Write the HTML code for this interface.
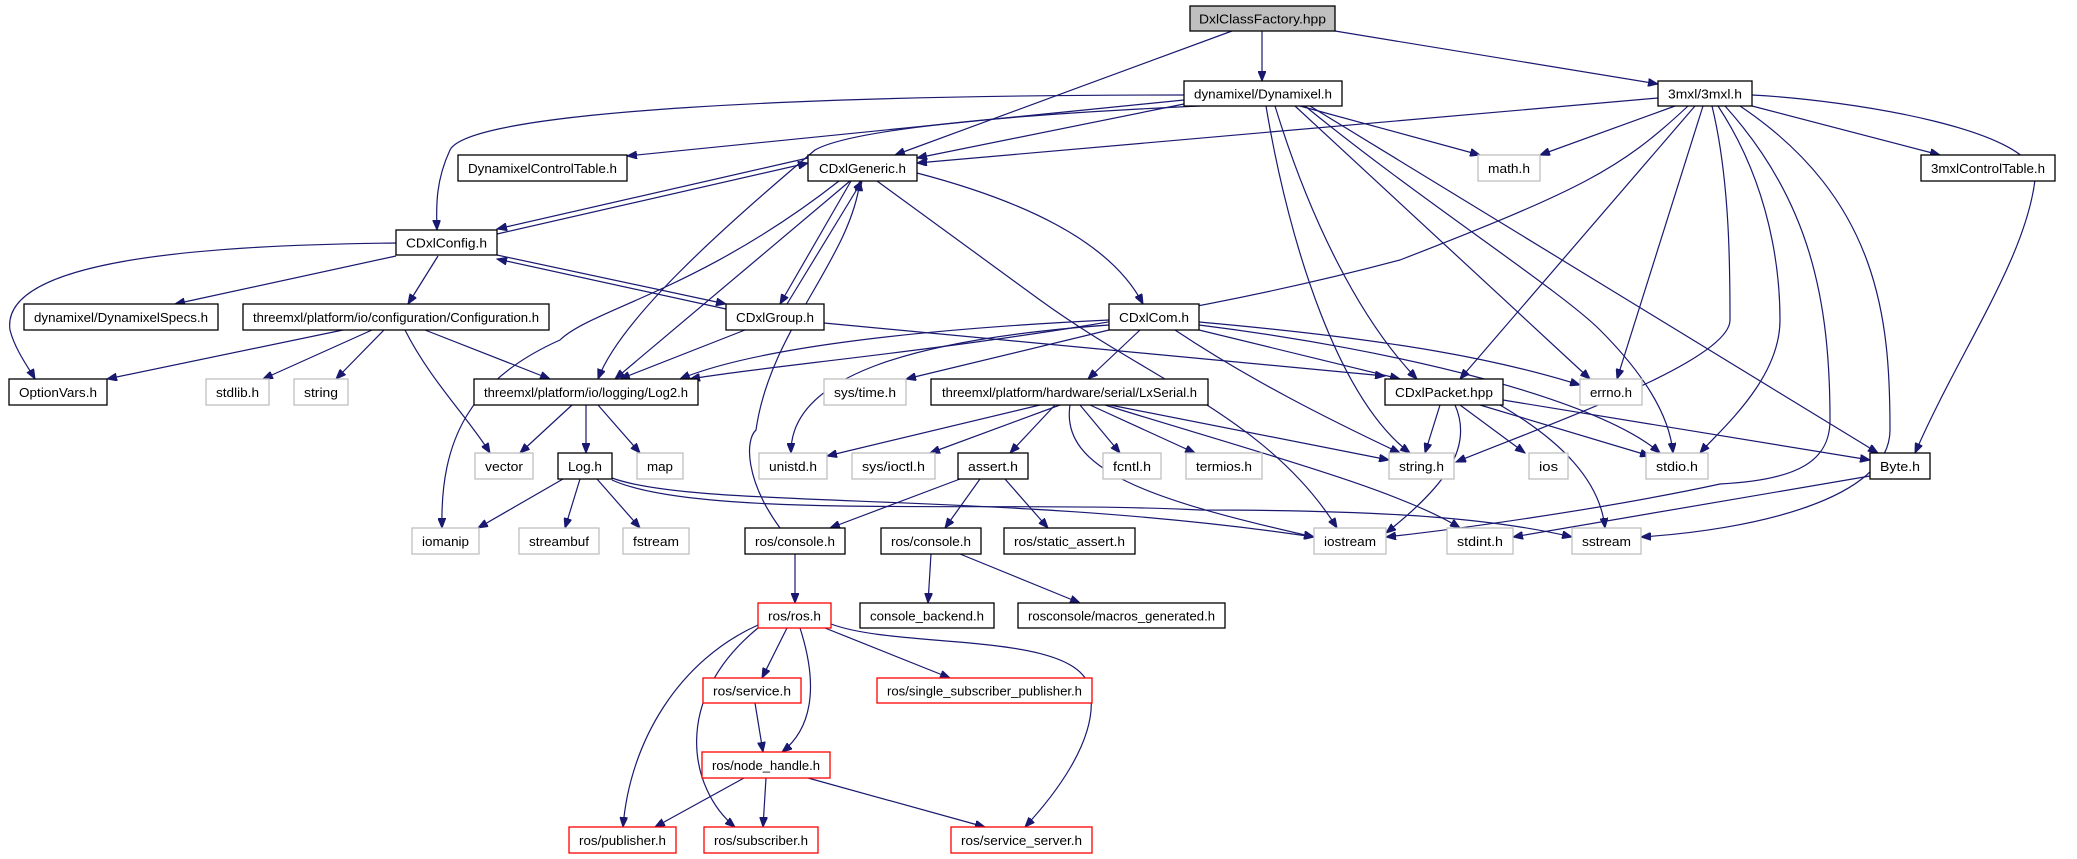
<!DOCTYPE html>
<html><head><meta charset="utf-8"><style>
html,body{margin:0;padding:0;background:#fff}
svg{display:block}
text{font-family:"Liberation Sans",Arial,sans-serif;font-size:13px;fill:#000}
.b{fill:#fff;stroke:#000;stroke-width:1.3}
.g{fill:#fff;stroke:#bfbfbf;stroke-width:1.3}
.r{fill:#fff;stroke:#ff0000;stroke-width:1.3}
.e path{fill:none;stroke:#191970;stroke-width:1.2;marker-end:url(#a)}
</style></head><body>
<svg width="2077" height="859" viewBox="0 0 2077 859" xmlns="http://www.w3.org/2000/svg">
<defs><marker id="a" markerUnits="userSpaceOnUse" markerWidth="11" markerHeight="8" refX="10" refY="4" orient="auto"><path d="M0,0 L10,4 L0,8 z" fill="#191970" stroke="#191970"/></marker></defs>
<g class="e">
<path d="M1262,31 L1262,81"/>
<path d="M1335,31 L1658,84"/>
<path d="M1232,31 L895,155"/>
<path d="M1184,95 C820,95 470,110 450,150 C436,180 436,205 437,230"/>
<path d="M1184,100 L627,156"/>
<path d="M1184,104 L917,158"/>
<path d="M1658,98 L917,163"/>
<path d="M1300,106 L1480,155"/>
<path d="M1200,106 C1000,115 850,130 815,150 C720,230 620,320 598,379"/>
<path d="M1275,106 C1310,220 1360,320 1417,379"/>
<path d="M1266,106 C1290,250 1340,400 1410,453"/>
<path d="M1295,106 L1590,379"/>
<path d="M1305,106 C1420,200 1560,290 1600,330 C1650,380 1670,420 1673,453"/>
<path d="M1310,106 L1878,453"/>
<path d="M1675,106 L1540,155"/>
<path d="M1752,106 L1940,155"/>
<path d="M1688,106 C1620,170 1580,190 1400,260 C1100,340 800,360 690,379"/>
<path d="M1695,106 L1460,379"/>
<path d="M1703,106 L1617,379"/>
<path d="M1712,106 C1730,180 1730,270 1730,320 C1730,360 1560,420 1456,462"/>
<path d="M1718,106 C1780,200 1780,300 1780,320 C1780,380 1720,430 1700,453"/>
<path d="M1725,106 C1810,200 1830,300 1830,420 C1830,460 1800,480 1720,484 C1600,510 1450,530 1386,537"/>
<path d="M1740,106 C1880,200 1890,320 1890,430 C1890,500 1750,530 1641,537"/>
<path d="M1752,95 C1850,100 2040,130 2035,180 C2025,260 1960,350 1915,453"/>
<path d="M808,158 L497,229"/>
<path d="M497,234 L808,163"/>
<path d="M851,181 L780,304"/>
<path d="M787,304 L862,181"/>
<path d="M850,181 L615,379"/>
<path d="M917,173 C1020,200 1110,240 1143,304"/>
<path d="M839,181 C700,290 590,310 560,340 C470,380 440,440 442,528"/>
<path d="M877,181 L1040,300 C1150,380 1270,420 1337,528"/>
<path d="M396,243 C200,245 0,260 10,330 C15,350 30,370 35,379"/>
<path d="M396,256 L175,304"/>
<path d="M438,256 L408,304"/>
<path d="M497,255 L726,304"/>
<path d="M726,309 L497,259"/>
<path d="M343,330 L107,379"/>
<path d="M372,330 L263,379"/>
<path d="M384,330 L336,379"/>
<path d="M425,330 L550,379"/>
<path d="M405,330 C430,380 470,420 490,453"/>
<path d="M745,330 L620,379"/>
<path d="M824,323 L1385,376"/>
<path d="M1109,320 C900,330 750,350 680,379"/>
<path d="M1109,330 L906,379"/>
<path d="M1140,330 L1088,379"/>
<path d="M1109,325 C900,340 790,380 791,453"/>
<path d="M1199,330 L1400,379"/>
<path d="M1199,322 C1400,340 1500,360 1580,385"/>
<path d="M1199,325 C1400,350 1600,400 1660,453"/>
<path d="M1175,330 C1250,380 1330,420 1400,453"/>
<path d="M1040,405 L827,456"/>
<path d="M1060,405 L930,453"/>
<path d="M1055,405 L1010,453"/>
<path d="M1080,405 L1120,453"/>
<path d="M1090,405 L1195,453"/>
<path d="M1110,405 L1389,460"/>
<path d="M1070,405 C1060,470 1150,500 1314,537"/>
<path d="M1105,405 C1250,450 1400,490 1460,528"/>
<path d="M1440,405 L1425,453"/>
<path d="M1460,405 L1525,453"/>
<path d="M1480,405 L1650,456"/>
<path d="M1503,400 L1870,460"/>
<path d="M1455,405 C1475,450 1440,490 1386,533"/>
<path d="M1500,405 C1560,440 1600,480 1605,528"/>
<path d="M572,405 L520,453"/>
<path d="M586,405 L586,453"/>
<path d="M598,405 L640,453"/>
<path d="M563,479 L478,528"/>
<path d="M580,479 L565,528"/>
<path d="M597,479 L640,528"/>
<path d="M612,478 C700,510 1000,490 1314,537"/>
<path d="M612,480 C700,520 1000,500 1200,510 C1400,510 1500,520 1572,537"/>
<path d="M960,479 L830,528"/>
<path d="M980,479 L945,528"/>
<path d="M1005,479 L1048,528"/>
<path d="M795,554 L795,603"/>
<path d="M780,528 C745,480 745,440 756,430 C770,330 850,260 860,181"/>
<path d="M931,554 L928,603"/>
<path d="M960,554 L1080,603"/>
<path d="M1870,476 L1513,537"/>
<path d="M787,628 L762,678"/>
<path d="M800,628 C820,690 810,730 782,752"/>
<path d="M825,628 L950,678"/>
<path d="M758,625 C680,660 630,740 623,827"/>
<path d="M758,628 C670,700 690,790 735,827"/>
<path d="M831,624 C900,650 1080,630 1090,690 C1100,740 1050,800 1025,827"/>
<path d="M755,703 L763,752"/>
<path d="M744,778 L655,827"/>
<path d="M766,778 L763,827"/>
<path d="M808,778 L985,827"/>
</g>
<g text-anchor="middle">
<rect x="1190" y="6" width="145" height="25" fill="#bfbfbf" stroke="#000" stroke-width="1.3"/><text x="1262.5" y="23.5" textLength="127" lengthAdjust="spacingAndGlyphs">DxlClassFactory.hpp</text>
<rect class="b" x="1184" y="81" width="158" height="25"/><text x="1263" y="98.5" textLength="138" lengthAdjust="spacingAndGlyphs">dynamixel/Dynamixel.h</text>
<rect class="b" x="1658" y="81" width="94" height="25"/><text x="1705" y="98.5" textLength="74" lengthAdjust="spacingAndGlyphs">3mxl/3mxl.h</text>
<rect class="b" x="458" y="155" width="169" height="26"/><text x="542.5" y="173" textLength="149" lengthAdjust="spacingAndGlyphs">DynamixelControlTable.h</text>
<rect class="b" x="808" y="155" width="109" height="26"/><text x="862.5" y="173" textLength="87" lengthAdjust="spacingAndGlyphs">CDxlGeneric.h</text>
<rect class="g" x="1478" y="155" width="62" height="26"/><text x="1509" y="173" textLength="42" lengthAdjust="spacingAndGlyphs">math.h</text>
<rect class="b" x="1921" y="155" width="134" height="26"/><text x="1988" y="173" textLength="114" lengthAdjust="spacingAndGlyphs">3mxlControlTable.h</text>
<rect class="b" x="396" y="230" width="101" height="25"/><text x="446.5" y="247.5" textLength="81" lengthAdjust="spacingAndGlyphs">CDxlConfig.h</text>
<rect class="b" x="24" y="304" width="194" height="26"/><text x="121" y="322" textLength="174" lengthAdjust="spacingAndGlyphs">dynamixel/DynamixelSpecs.h</text>
<rect class="b" x="243" y="304" width="306" height="26"/><text x="396" y="322" textLength="286" lengthAdjust="spacingAndGlyphs">threemxl/platform/io/configuration/Configuration.h</text>
<rect class="b" x="726" y="304" width="98" height="26"/><text x="775" y="322" textLength="78" lengthAdjust="spacingAndGlyphs">CDxlGroup.h</text>
<rect class="b" x="1109" y="304" width="90" height="26"/><text x="1154" y="322" textLength="70" lengthAdjust="spacingAndGlyphs">CDxlCom.h</text>
<rect class="b" x="9" y="379" width="98" height="26"/><text x="58" y="397" textLength="78" lengthAdjust="spacingAndGlyphs">OptionVars.h</text>
<rect class="g" x="206" y="379" width="63" height="26"/><text x="237.5" y="397" textLength="43" lengthAdjust="spacingAndGlyphs">stdlib.h</text>
<rect class="g" x="294" y="379" width="54" height="26"/><text x="321" y="397" textLength="34" lengthAdjust="spacingAndGlyphs">string</text>
<rect class="b" x="474" y="379" width="224" height="26"/><text x="586" y="397" textLength="204" lengthAdjust="spacingAndGlyphs">threemxl/platform/io/logging/Log2.h</text>
<rect class="g" x="824" y="379" width="82" height="26"/><text x="865" y="397" textLength="62" lengthAdjust="spacingAndGlyphs">sys/time.h</text>
<rect class="b" x="931" y="379" width="277" height="26"/><text x="1069.5" y="397" textLength="255" lengthAdjust="spacingAndGlyphs">threemxl/platform/hardware/serial/LxSerial.h</text>
<rect class="b" x="1385" y="379" width="118" height="26"/><text x="1444" y="397" textLength="98" lengthAdjust="spacingAndGlyphs">CDxlPacket.hpp</text>
<rect class="g" x="1580" y="379" width="62" height="26"/><text x="1611" y="397" textLength="42" lengthAdjust="spacingAndGlyphs">errno.h</text>
<rect class="g" x="475" y="453" width="58" height="26"/><text x="504" y="471" textLength="38" lengthAdjust="spacingAndGlyphs">vector</text>
<rect class="b" x="558" y="453" width="54" height="26"/><text x="585" y="471" textLength="34" lengthAdjust="spacingAndGlyphs">Log.h</text>
<rect class="g" x="637" y="453" width="46" height="26"/><text x="660" y="471" textLength="26" lengthAdjust="spacingAndGlyphs">map</text>
<rect class="g" x="759" y="453" width="68" height="26"/><text x="793" y="471" textLength="48" lengthAdjust="spacingAndGlyphs">unistd.h</text>
<rect class="g" x="852" y="453" width="83" height="26"/><text x="893.5" y="471" textLength="63" lengthAdjust="spacingAndGlyphs">sys/ioctl.h</text>
<rect class="b" x="958" y="453" width="70" height="26"/><text x="993" y="471" textLength="50" lengthAdjust="spacingAndGlyphs">assert.h</text>
<rect class="g" x="1103" y="453" width="58" height="26"/><text x="1132" y="471" textLength="38" lengthAdjust="spacingAndGlyphs">fcntl.h</text>
<rect class="g" x="1186" y="453" width="76" height="26"/><text x="1224" y="471" textLength="56" lengthAdjust="spacingAndGlyphs">termios.h</text>
<rect class="g" x="1389" y="453" width="65" height="26"/><text x="1421.5" y="471" textLength="45" lengthAdjust="spacingAndGlyphs">string.h</text>
<rect class="g" x="1529" y="453" width="39" height="26"/><text x="1548.5" y="471" textLength="19" lengthAdjust="spacingAndGlyphs">ios</text>
<rect class="g" x="1646" y="453" width="62" height="26"/><text x="1677" y="471" textLength="42" lengthAdjust="spacingAndGlyphs">stdio.h</text>
<rect class="b" x="1870" y="453" width="60" height="26" stroke-width="1.8"/><text x="1900" y="471" textLength="40" lengthAdjust="spacingAndGlyphs">Byte.h</text>
<rect class="g" x="412" y="528" width="67" height="26"/><text x="445.5" y="546" textLength="47" lengthAdjust="spacingAndGlyphs">iomanip</text>
<rect class="g" x="519" y="528" width="80" height="26"/><text x="559" y="546" textLength="60" lengthAdjust="spacingAndGlyphs">streambuf</text>
<rect class="g" x="623" y="528" width="66" height="26"/><text x="656" y="546" textLength="46" lengthAdjust="spacingAndGlyphs">fstream</text>
<rect class="b" x="745" y="528" width="100" height="26"/><text x="795" y="546" textLength="80" lengthAdjust="spacingAndGlyphs">ros/console.h</text>
<rect class="b" x="881" y="528" width="100" height="26"/><text x="931" y="546" textLength="80" lengthAdjust="spacingAndGlyphs">ros/console.h</text>
<rect class="b" x="1004" y="528" width="131" height="26"/><text x="1069.5" y="546" textLength="111" lengthAdjust="spacingAndGlyphs">ros/static_assert.h</text>
<rect class="g" x="1314" y="528" width="72" height="26"/><text x="1350" y="546" textLength="52" lengthAdjust="spacingAndGlyphs">iostream</text>
<rect class="g" x="1447" y="528" width="66" height="26"/><text x="1480" y="546" textLength="46" lengthAdjust="spacingAndGlyphs">stdint.h</text>
<rect class="g" x="1572" y="528" width="69" height="26"/><text x="1606.5" y="546" textLength="49" lengthAdjust="spacingAndGlyphs">sstream</text>
<rect class="r" x="758" y="603" width="73" height="25"/><text x="794.5" y="620.5" textLength="53" lengthAdjust="spacingAndGlyphs">ros/ros.h</text>
<rect class="b" x="860" y="603" width="134" height="25"/><text x="927" y="620.5" textLength="114" lengthAdjust="spacingAndGlyphs">console_backend.h</text>
<rect class="b" x="1018" y="603" width="207" height="25"/><text x="1121.5" y="620.5" textLength="187" lengthAdjust="spacingAndGlyphs">rosconsole/macros_generated.h</text>
<rect class="r" x="703" y="678" width="98" height="25"/><text x="752" y="695.5" textLength="78" lengthAdjust="spacingAndGlyphs">ros/service.h</text>
<rect class="r" x="877" y="678" width="215" height="25"/><text x="984.5" y="695.5" textLength="195" lengthAdjust="spacingAndGlyphs">ros/single_subscriber_publisher.h</text>
<rect class="r" x="702" y="752" width="128" height="26"/><text x="766" y="770" textLength="108" lengthAdjust="spacingAndGlyphs">ros/node_handle.h</text>
<rect class="r" x="569" y="827" width="107" height="26"/><text x="622.5" y="845" textLength="87" lengthAdjust="spacingAndGlyphs">ros/publisher.h</text>
<rect class="r" x="704" y="827" width="114" height="26"/><text x="761" y="845" textLength="94" lengthAdjust="spacingAndGlyphs">ros/subscriber.h</text>
<rect class="r" x="951" y="827" width="141" height="26"/><text x="1021.5" y="845" textLength="121" lengthAdjust="spacingAndGlyphs">ros/service_server.h</text>
</g>
</svg>
</body></html>
